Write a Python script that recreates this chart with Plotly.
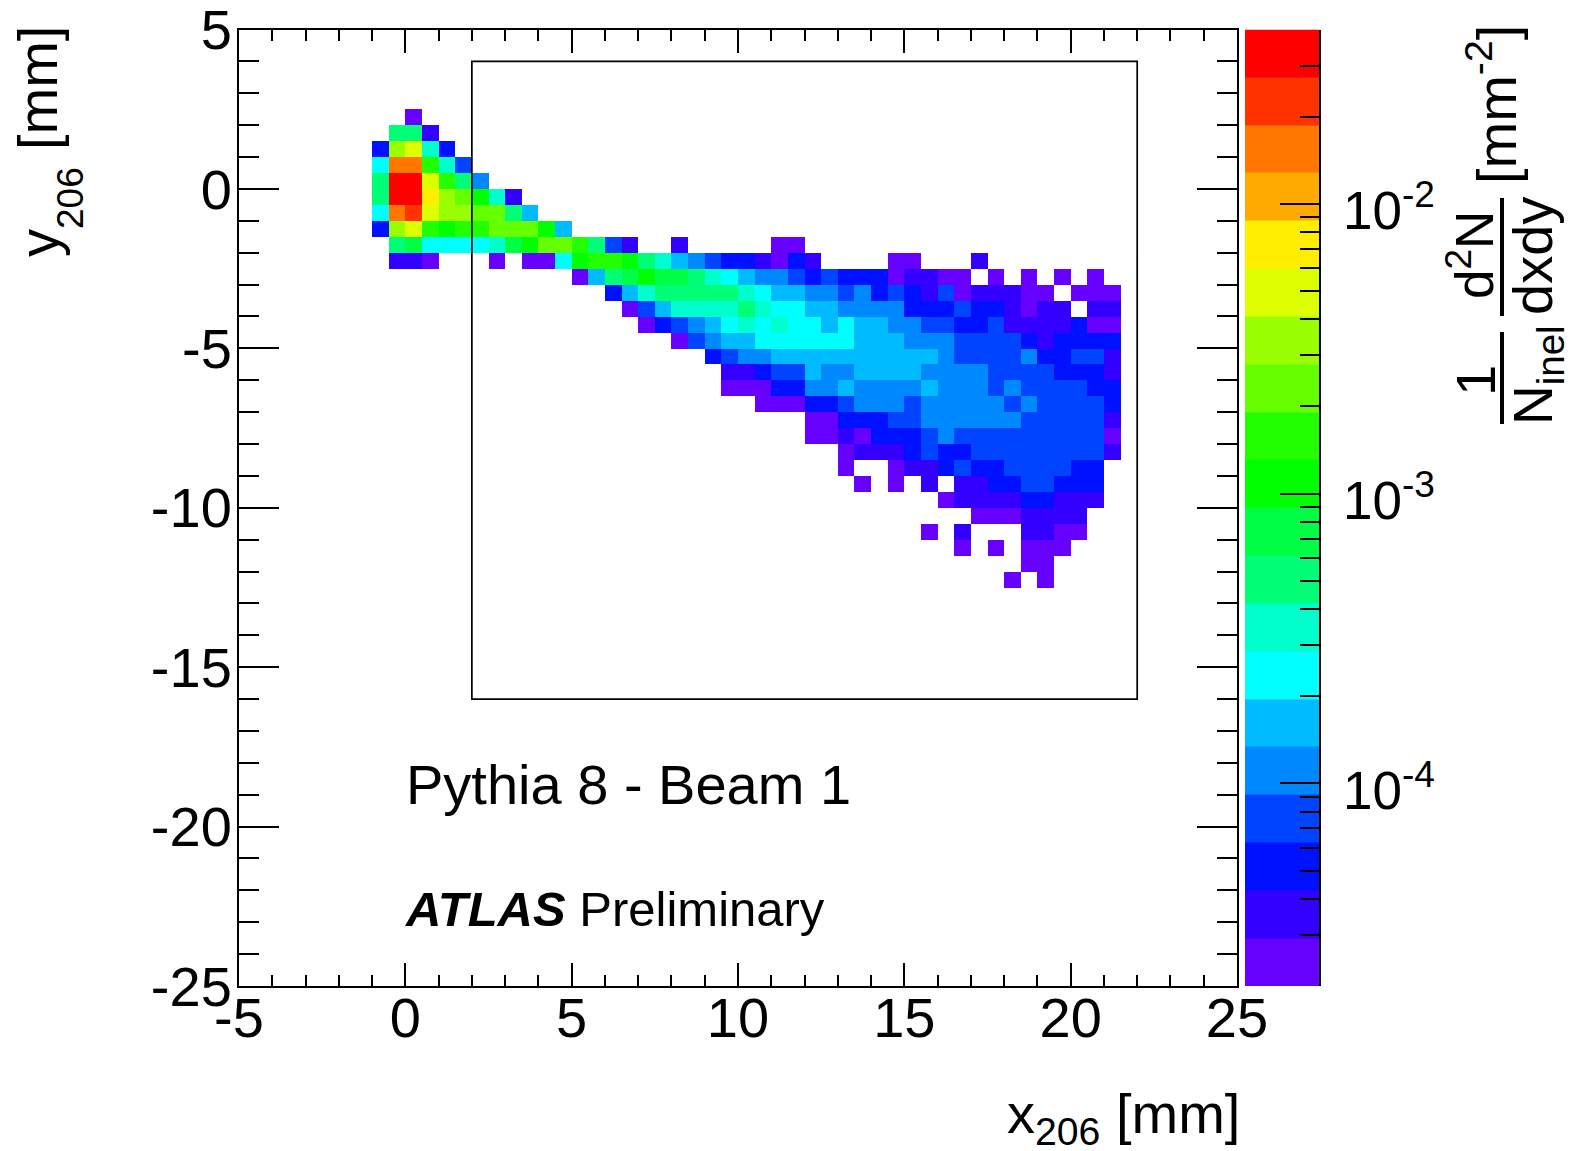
import numpy as np
import plotly.graph_objects as go

W, H = 1585, 1151
X_EDGES = np.arange(-5, 25.01, 0.5)
Y_EDGES = np.arange(5, -25.01, -0.5)
_ = None

# band index of each filled bin: row (from top): (first column, bands...)
ROWS = {
 5: (10, [0]),
 6: (9, [8,8,1]),
 7: (8, [2,13,14,7,2]),
 8: (8, [6,17,17,11,7,3]),
 9: (8, [8,19,19,14,11,8,4]),
 10: (8, [8,19,19,15,13,12,10,7,1]),
 11: (8, [6,17,18,14,13,13,12,12,8,5]),
 12: (8, [2,13,14,11,10,11,11,12,12,12,10,5]),
 13: (9, [8,9,6,6,6,6,7,9,10,12,12,11,8,3,1,_,_,1,_,_,_,_,_,0,0]),
 14: (9, [1,1,0,_,_,_,0,_,0,0,6,10,11,11,10,8,7,5,4,3,2,2,1,0,2,1,_,_,_,_,0,0,_,_,_,1]),
 15: (20, [0,5,8,9,10,9,9,8,7,6,5,4,4,3,2,3,2,2,2,0,1,1,0,0,_,0,_,0,_,0,_,0]),
 16: (22, [2,5,7,8,8,8,8,8,7,6,5,5,4,4,3,4,2,3,2,1,3,0,1,1,1,0,0,_,0,0,0]),
 17: (23, [0,3,5,7,7,7,7,8,7,6,6,5,5,4,4,4,4,2,2,2,3,2,2,1,0,1,1,_,1,1]),
 18: (24, [0,2,3,4,5,6,7,6,7,6,6,5,6,5,5,4,4,3,3,2,2,3,1,1,1,1,2,0,0]),
 19: (26, [0,3,4,5,5,6,6,6,6,6,6,5,5,5,4,4,4,3,3,3,3,2,1,2,2,2,2]),
 20: (28, [2,3,4,4,5,5,5,5,5,5,5,5,5,5,4,3,3,3,3,4,2,2,3,3,1]),
 21: (29, [1,1,2,3,3,5,4,4,5,5,5,5,4,4,4,4,3,3,3,3,2,2,2,1]),
 22: (29, [0,0,0,2,2,4,4,5,4,4,4,4,5,4,4,4,3,4,3,3,3,3,2,2]),
 23: (31, [0,0,0,2,2,3,4,4,4,3,4,4,4,4,4,3,4,3,3,3,3,2]),
 24: (34, [0,0,2,2,2,3,3,4,4,4,4,4,4,3,3,3,3,3,1]),
 25: (34, [0,0,1,0,2,2,2,3,4,3,3,3,3,3,3,3,3,3,0]),
 26: (36, [0,1,1,1,2,3,2,2,3,3,3,3,3,3,3,3,1]),
 27: (36, [0,_,_,0,1,1,2,3,2,2,3,3,3,3,2,2]),
 28: (37, [0,_,0,_,1,_,1,1,2,2,3,3,2,2,2]),
 29: (42, [0,1,1,1,1,2,2,1,1,1]),
 30: (44, [0,0,0,1,1,1,1]),
 31: (41, [0,_,1,_,_,_,1,1,0,0]),
 32: (43, [0,_,0,_,0,0,0]),
 33: (47, [0,0]),
 34: (46, [0,_,0]),
}
BAND_COLORS = ["#6600ff","#3300ff","#0011ff","#0044ff","#0088ff","#00bbff","#00ffff",
               "#00ffcc","#00ff77","#00ff44","#00ff00","#22ff00","#66ff00","#99ff00",
               "#ddff00","#ffee00","#ffaa00","#ff7700","#ff3300","#ff0000"]
Z_MIN, Z_MAX = 2e-5, 4e-2
MAJOR_VALUES = [1e-4, 1e-3, 1e-2]
MAJOR_LABELS = ["10<sup>-4</sup>", "10<sup>-3</sup>", "10<sup>-2</sup>"]
ACCEPTANCE_BOX = dict(x0=2, x1=22, y0=-16, y1=4)

LMIN, LMAX = np.log10(Z_MIN), np.log10(Z_MAX)
N = len(BAND_COLORS)
STEP = (LMAX - LMIN) / N

grid = np.full((60, 60), np.nan)
for row, (start, bands) in ROWS.items():
    for k, b in enumerate(bands):
        if b is not None:
            grid[row, start + k] = LMIN + (b + 0.5) * STEP

scale = []
for i, c in enumerate(BAND_COLORS):
    scale += [[i / N, c], [(i + 1) / N, c]]

# frame geometry (pixels)
ML, MR, MT, MB = 30, 20, 20, 24
L, R, T, B = 239, 1237, 29.5, 986
CL, CR = 1245, 1319
def px(x): return (x - ML) / (W - ML - MR)
def py(y): return 1 - (y - MT) / (H - MT - MB)

FONT = "Liberation Sans, Arial, sans-serif"
TICK = 56

fig = go.Figure()
fig.add_trace(go.Heatmap(x=X_EDGES, y=Y_EDGES, z=grid, colorscale=scale, zmin=LMIN, zmax=LMAX,
                         showscale=False, hoverongaps=False, xaxis="x", yaxis="y"))
bar_edges = np.logspace(LMIN, LMAX, N + 1)
bar_z = [[LMIN + (i + 0.5) * STEP] for i in range(N)]
fig.add_trace(go.Heatmap(x=[0, 1], y=bar_edges, z=bar_z, colorscale=scale, zmin=LMIN, zmax=LMAX,
                         showscale=False, xaxis="x2", yaxis="y2"))

def axis_common(major, minor, standoff):
    return dict(showgrid=False, zeroline=False, showline=True, linecolor="black", linewidth=2,
                mirror="ticks", ticks="inside", ticklen=major, tickwidth=1.7, tickcolor="black",
                automargin=False, ticklabeloverflow="allow", ticklabelstandoff=standoff,
                tickfont=dict(family=FONT, size=TICK, color="black"),
                minor=dict(ticks="inside", ticklen=minor, tickwidth=1.7, tickcolor="black", dtick=1))

fig.update_layout(
    width=W, height=H, margin=dict(l=ML, r=MR, t=MT, b=MB), paper_bgcolor="white", plot_bgcolor="white",
    showlegend=False, font=dict(family=FONT, color="black"),
    xaxis=dict(domain=[px(L), px(R)], range=[-5, 25], tickmode="array", tickvals=list(range(-5, 26, 5)),
               ticktext=[str(v) for v in range(-5, 26, 5)], anchor="y", **axis_common(23, 11.5, -18)),
    yaxis=dict(domain=[py(B), py(T)], range=[-25, 5], tickmode="array", tickvals=list(range(-25, 6, 5)),
               ticktext=[str(v) for v in range(-25, 6, 5)], anchor="x", **axis_common(40, 20, -6)),
    xaxis2=dict(domain=[px(CL), px(CR)], range=[0, 1], visible=False, anchor="y2"),
    yaxis2=dict(domain=[py(B), py(T)], type="log", range=[LMIN, LMAX], side="right", anchor="x2",
                showgrid=False, zeroline=False, showline=True, linecolor="black", linewidth=2,
                ticks="inside", ticklen=39, tickwidth=1.7, tickcolor="black", automargin=False,
                tickmode="array", tickvals=MAJOR_VALUES, showticklabels=False,
                minor=dict(ticks="inside", ticklen=19, tickwidth=1.7, tickcolor="black",
                           tickvals=[k * 10.0 ** e for e in range(-5, -1) for k in range(2, 10)
                                     if Z_MIN <= k * 10.0 ** e <= Z_MAX])),
    shapes=[
        dict(type="rect", xref="x", yref="y", line=dict(color="black", width=1.7), **ACCEPTANCE_BOX),
        dict(type="line", xref="paper", yref="paper", x0=px(1502), x1=px(1502), y0=py(316), y1=py(198),
             line=dict(color="black", width=4)),
        dict(type="line", xref="paper", yref="paper", x0=px(1502), x1=px(1502), y0=py(424), y1=py(332),
             line=dict(color="black", width=4)),
    ],
)

def text(s, x, y, size=TICK, angle=0, xanchor="left", yanchor="middle"):
    fig.add_annotation(text=s, xref="paper", yref="paper", x=px(x), y=py(y), showarrow=False,
                       font=dict(family=FONT, size=size, color="black"), textangle=angle,
                       xanchor=xanchor, yanchor=yanchor, align="left")

for v, label in zip(MAJOR_VALUES, MAJOR_LABELS):
    fig.add_annotation(text=label, xref="paper", yref="y2", x=px(1341), y=np.log10(v), yshift=-3,
                       showarrow=False, xanchor="left", yanchor="middle",
                       font=dict(family=FONT, size=53, color="black"))

text("Pythia 8 - Beam 1", 404, 784, size=56)
text("<b><i>ATLAS</i></b> Preliminary", 403, 909, size=49)
text("x<sub>206</sub> [mm]", 1242, 1117, xanchor="right")
text("y", 38, 243, angle=-90, xanchor="center")
text("206", 70, 198, size=37, angle=-90, xanchor="center")
text("[mm]", 38, 88, angle=-90, xanchor="center")
text("[mm<sup>-2</sup>]", 1492, 105, size=56, angle=-90, xanchor="center")
text("d<sup>2</sup>N", 1471, 255, size=53, angle=-90, xanchor="center")
text("dxdy", 1532, 256, size=56, angle=-90, xanchor="center")
text("1", 1475, 381, size=56, angle=-90, xanchor="center")
text("N<sub>inel</sub>", 1537, 375, size=55, angle=-90, xanchor="center")

fig.write_html("out.html", config={"displayModeBar": False},
               post_script="document.body.style.margin='0';")
